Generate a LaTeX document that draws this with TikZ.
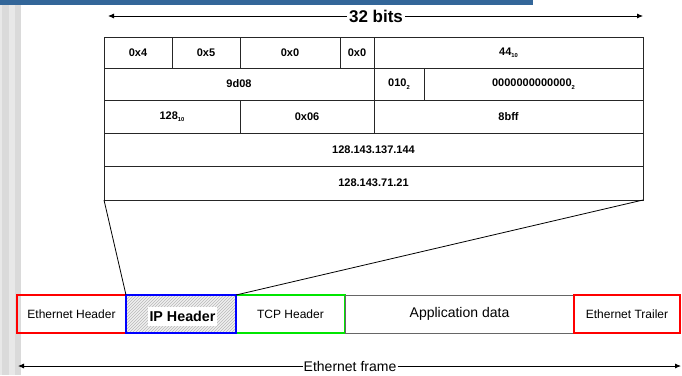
\documentclass[tikz,border=0pt]{standalone}
\usepackage{fontspec}
\setmainfont{Liberation Sans}
\usetikzlibrary{arrows.meta,patterns}
\definecolor{barblue}{RGB}{51,102,153}
\definecolor{stripeA}{RGB}{218,218,218}
\definecolor{stripeB}{RGB}{232,232,232}
\definecolor{ethred}{RGB}{255,0,0}
\definecolor{ipblue}{RGB}{0,0,255}
\definecolor{tcpgreen}{RGB}{0,230,0}
\newcommand\subsc[1]{\raisebox{-2.4pt}{\fontsize{5.8}{6}\selectfont #1}}
\begin{document}
\begin{tikzpicture}[x=1pt,y=-1pt,
  cell/.style={draw=black!85,line width=0.8pt,inner sep=0pt,outer sep=0pt,
    font=\fontsize{11}{13}\selectfont\bfseries,anchor=center},
  fbox/.style={inner sep=0pt,outer sep=0pt,line width=2pt,font=\fontsize{12}{14}\selectfont},
  arr/.style={line width=0.8pt,-{Latex[length=6pt,width=5pt]}}]
\useasboundingbox (0,0) rectangle (682,375);
\fill[white] (0,0) rectangle (682,375);
% left stripes
\fill[stripeB] (0,0) rectangle (2,375);
\fill[stripeA] (2,0) rectangle (9,375);
\fill[stripeB] (9,0) rectangle (15,375);
\fill[stripeA] (15,0) rectangle (21,375);
% top bar
\fill[barblue] (0,0) rectangle (533,4.5);

% 32 bits arrow
\node[font=\fontsize{17}{18}\selectfont\bfseries,inner sep=2pt] (bits) at (376,16) {32 bits};
\coordinate (bl) at (108,16);
\coordinate (br) at (643,16);
\draw[arr] (bits.west) -- (bl);
\draw[arr] (bits.east) -- (br);

% row 1
\node[cell,minimum width=68pt,minimum height=31pt] (c11) at (138,52.5) {0x4};
\node[cell,minimum width=68pt,minimum height=31pt] (c12) at (206,52.5) {0x5};
\node[cell,minimum width=100pt,minimum height=31pt] (c13) at (290,52.5) {0x0};
\node[cell,minimum width=34pt,minimum height=31pt] (c14) at (357,52.5) {0x0};
\node[cell,minimum width=269pt,minimum height=31pt] (c15) at (508.5,52.5) {44\subsc{10}};
% row 2
\node[cell,minimum width=270pt,minimum height=32pt] (c21) at (239,84) {9d08};
\node[cell,minimum width=50pt,minimum height=32pt] (c22) at (399,84) {010\subsc{2}};
\node[cell,minimum width=219pt,minimum height=32pt] (c23) at (533.5,84) {0000000000000\subsc{2}};
% row 3
\node[cell,minimum width=136pt,minimum height=33pt] (c31) at (172,116.5) {128\subsc{10}};
\node[cell,minimum width=134pt,minimum height=33pt] (c32) at (307,116.5) {0x06};
\node[cell,minimum width=269pt,minimum height=33pt] (c33) at (508.5,116.5) {8bff};
% row 4, 5
\node[cell,minimum width=539pt,minimum height=33pt] (c41) at (373.5,149.5) {128.143.137.144};
\node[cell,minimum width=539pt,minimum height=34pt] (c51) at (373.5,183) {128.143.71.21};

% frame boxes
\node[fbox,draw=ethred,minimum width=109pt,minimum height=38pt] (eh) at (71.5,314) {Ethernet Header};
\node[fbox,draw=tcpgreen,minimum width=109pt,minimum height=38pt] (tcp) at (290.5,314) {TCP Header};
\node[fbox,draw=black!60,line width=0.8pt,minimum width=229pt,minimum height=38pt,font=\fontsize{14}{16}\selectfont] (app) at (459.5,314) {Application data};
\node[fbox,draw=ethred,minimum width=106pt,minimum height=38pt] (et) at (627,314) {Ethernet Trailer};
\node[fbox,draw=ipblue,fill=gray!12,postaction={pattern=north east lines,pattern color=gray!55},minimum width=110pt,minimum height=38pt] (ip) at (181,314) {};
\node[fill=white,inner sep=0pt,minimum width=69pt,minimum height=19pt,font=\fontsize{14.3}{16}\selectfont\bfseries] (iptext) at (182.5,316.5) {IP Header};
\draw[ipblue,line width=2pt] (ip.south west) rectangle (ip.north east);

% funnel
\draw[line width=0.8pt] (c51.south west) -- (ip.north west);
\draw[line width=0.8pt] (c51.south east) -- (ip.north east);

% ethernet frame arrow
\node[font=\fontsize{14}{16}\selectfont,inner sep=1pt] (ef) at (350,366) {Ethernet frame};
\coordinate (fl) at (18,366);
\coordinate (fr) at (681,366);
\draw[arr] (ef.west) -- (fl);
\draw[arr] (ef.east) -- (fr);
\end{tikzpicture}
\end{document}
